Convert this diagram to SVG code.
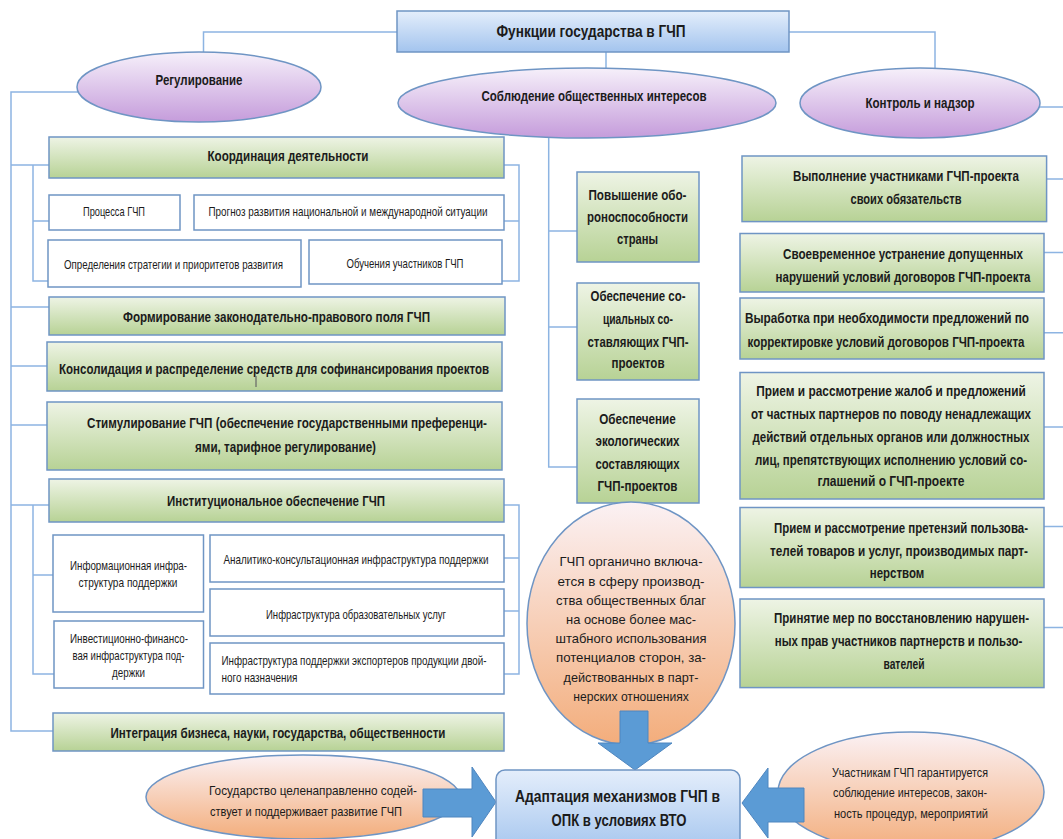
<svg xmlns="http://www.w3.org/2000/svg" width="1063" height="839" viewBox="0 0 1063 839">
<defs>
<linearGradient id="gG" x1="0" y1="0" x2="0" y2="1"><stop offset="0" stop-color="#eef4e5"/><stop offset="1" stop-color="#b7d295"/></linearGradient>
<linearGradient id="gP" x1="0" y1="0" x2="0" y2="1"><stop offset="0" stop-color="#f6f0fa"/><stop offset="1" stop-color="#c59cdb"/></linearGradient>
<linearGradient id="gB" x1="0" y1="0" x2="0" y2="1"><stop offset="0" stop-color="#e4eefb"/><stop offset="1" stop-color="#a3c4ee"/></linearGradient>
<linearGradient id="gO" x1="0" y1="0" x2="0" y2="1"><stop offset="0" stop-color="#fbf1f4"/><stop offset="1" stop-color="#f3ad7b"/></linearGradient>
</defs>
<style>
.ln{fill:none;stroke:#8db4e2;stroke-width:1.5}
.gb{fill:url(#gG);stroke:#6f95c4;stroke-width:1.5}
.wb{fill:#fff;stroke:#6f95c4;stroke-width:1.5}
.pe{fill:url(#gP);stroke:#6f95c4;stroke-width:1.5}
.oe{fill:url(#gO);stroke:#6f95c4;stroke-width:1.5}
.bb{fill:url(#gB);stroke:#6f95c4;stroke-width:1.5}
.ar{fill:#5b9bd5;stroke:#4f86bf;stroke-width:1}
text{font-family:"Liberation Sans Narrow","Liberation Sans",Arial,sans-serif;fill:#1b1b1b;text-anchor:middle}
.b15{font-size:15px;font-weight:bold}
.b16{font-size:16px;font-weight:bold}
.m15{font-size:15px;font-weight:bold}
.r13{font-size:13px}
.l{text-anchor:start}
</style>
<rect width="1063" height="839" fill="#fff"/>

<g id="connectors">
<path class="ln" d="M397,32H203.5V52"/>
<path class="ln" d="M606,52V68"/>
<path class="ln" d="M789,32H935V68"/>
<path class="ln" d="M78,92H11V731H53"/>
<path class="ln" d="M11,165H49M11,307H49M11,366H47M11,425H47M11,505H49"/>
<path class="ln" d="M33,165V281H48M33,221H49"/>
<path class="ln" d="M504,165H519V281H502M504,221H519"/>
<path class="ln" d="M33,505V674H54M33,575H53"/>
<path class="ln" d="M504,505H519V674H504M504,558H519M504,611H519"/>
<path class="ln" d="M548.7,137V467H577M548.7,231H577M548.7,327H577"/>
<path class="ln" d="M1039,107H1063M1046.6,179H1063M1044,252.5H1063M1044,332.7H1063M1044,427H1063M1044,526.5H1063M1044,627.5H1063"/>
</g>

<g id="title"><rect class="bb" x="397" y="11" width="392" height="41"/><text class="b16" x="591" y="37" textLength="189" lengthAdjust="spacingAndGlyphs">Функции государства в ГЧП</text></g>

<g id="regulirovanie"><ellipse class="pe" cx="199" cy="87" rx="122" ry="35"/><text class="b15" x="199" y="85" textLength="87" lengthAdjust="spacingAndGlyphs">Регулирование</text></g>
<g id="soblyudenie"><ellipse class="pe" cx="587" cy="103" rx="189" ry="35"/><text class="b15" x="594" y="101" textLength="225" lengthAdjust="spacingAndGlyphs">Соблюдение общественных интересов</text></g>
<g id="kontrol"><ellipse class="pe" cx="920" cy="103" rx="120" ry="35"/><text class="b15" x="920" y="108" textLength="109" lengthAdjust="spacingAndGlyphs">Контроль и надзор</text></g>

<g id="koordinaciya"><rect class="gb" x="49" y="137" width="455" height="41"/><text class="b15" x="288" y="160.5" textLength="161" lengthAdjust="spacingAndGlyphs">Координация деятельности</text></g>
<g id="processa"><rect class="wb" x="49" y="195" width="131" height="35"/><text class="r13" x="114" y="215.5" textLength="62" lengthAdjust="spacingAndGlyphs">Процесса ГЧП</text></g>
<g id="prognoz"><rect class="wb" x="194" y="195" width="310" height="35"/><text class="r13" x="348" y="215.5" textLength="279" lengthAdjust="spacingAndGlyphs">Прогноз развития национальной и международной ситуации</text></g>
<g id="opredeleniya"><rect class="wb" x="48" y="240" width="253" height="47"/><text class="r13" x="173.5" y="268.5" textLength="219" lengthAdjust="spacingAndGlyphs">Определения стратегии и приоритетов развития</text></g>
<g id="obucheniya"><rect class="wb" x="309" y="240" width="193" height="44"/><text class="r13" x="405" y="267.5" textLength="117" lengthAdjust="spacingAndGlyphs">Обучения участников ГЧП</text></g>

<g id="formirovanie"><rect class="gb" x="49" y="297" width="456" height="38"/><text class="b15" x="276.5" y="321.5" textLength="307" lengthAdjust="spacingAndGlyphs">Формирование законодательно-правового поля ГЧП</text></g>
<g id="konsolidaciya"><rect class="gb" x="47" y="342" width="455" height="49"/><text class="b15" x="274" y="373.5" textLength="430" lengthAdjust="spacingAndGlyphs">Консолидация и распределение средств для софинансирования проектов</text><line x1="256" y1="376" x2="256" y2="387" stroke="#666" stroke-width="1.2"/></g>
<g id="stimulirovanie"><rect class="gb" x="47" y="402" width="455" height="68"/><text class="b15" x="287" y="427.5" textLength="400" lengthAdjust="spacingAndGlyphs">Стимулирование ГЧП (обеспечение государственными преференци-</text><text class="b15" x="285.5" y="451.5" textLength="181" lengthAdjust="spacingAndGlyphs">ями, тарифное регулирование)</text></g>
<g id="institucionalnoe"><rect class="gb" x="49" y="479" width="455" height="43"/><text class="b15" x="276" y="505.5" textLength="218" lengthAdjust="spacingAndGlyphs">Институциональное обеспечение ГЧП</text></g>

<g id="informacionnaya"><rect class="wb" x="53" y="535" width="150.5" height="77"/><text class="r13" x="128.5" y="569.5" textLength="117" lengthAdjust="spacingAndGlyphs">Информационная инфра-</text><text class="r13" x="128" y="587" textLength="99" lengthAdjust="spacingAndGlyphs">структура поддержки</text></g>
<g id="investicionno"><rect class="wb" x="54" y="621" width="149.5" height="67"/><text class="r13" x="129" y="642.5" textLength="118" lengthAdjust="spacingAndGlyphs">Инвестиционно-финансо-</text><text class="r13" x="128.5" y="659.5" textLength="112" lengthAdjust="spacingAndGlyphs">вая инфраструктура под-</text><text class="r13" x="128.5" y="676.5" textLength="33" lengthAdjust="spacingAndGlyphs">держки</text></g>
<g id="analitiko"><rect class="wb" x="210" y="535" width="294" height="47"/><text class="r13" x="356" y="564" textLength="265" lengthAdjust="spacingAndGlyphs">Аналитико-консультационная инфраструктура поддержки</text></g>
<g id="obrazovatelnyh"><rect class="wb" x="210" y="589" width="294" height="47"/><text class="r13" x="356" y="618.5" textLength="180" lengthAdjust="spacingAndGlyphs">Инфраструктура образовательных услуг</text></g>
<g id="eksporterov"><rect class="wb" x="210" y="643" width="294" height="51"/><text class="r13 l" x="221.5" y="664.5" textLength="265" lengthAdjust="spacingAndGlyphs">Инфраструктура поддержки экспортеров продукции двой-</text><text class="r13 l" x="221.5" y="681.5" textLength="76" lengthAdjust="spacingAndGlyphs">ного назначения</text></g>
<g id="integraciya"><rect class="gb" x="53" y="713" width="451" height="38"/><text class="b15" x="278" y="737.5" textLength="335" lengthAdjust="spacingAndGlyphs">Интеграция бизнеса, науки, государства, общественности</text></g>

<g id="oboronosposobnost"><rect class="gb" x="577" y="172" width="122" height="90"/><text class="m15" x="637.5" y="199.5" textLength="98" lengthAdjust="spacingAndGlyphs">Повышение обо-</text><text class="m15" x="637.5" y="222" textLength="101" lengthAdjust="spacingAndGlyphs">роноспособности</text><text class="m15" x="637.5" y="243.5" textLength="41" lengthAdjust="spacingAndGlyphs">страны</text></g>
<g id="socialnyh"><rect class="gb" x="577" y="283" width="122" height="97"/><text class="m15" x="638" y="300.5" textLength="95" lengthAdjust="spacingAndGlyphs">Обеспечение со-</text><text class="m15" x="638" y="323.5" textLength="70" lengthAdjust="spacingAndGlyphs">циальных со-</text><text class="m15" x="638" y="347" textLength="101" lengthAdjust="spacingAndGlyphs">ставляющих ГЧП-</text><text class="m15" x="638" y="368" textLength="53" lengthAdjust="spacingAndGlyphs">проектов</text></g>
<g id="ekologicheskih"><rect class="gb" x="577" y="399" width="122" height="104"/><text class="m15" x="637.5" y="423.5" textLength="76.5" lengthAdjust="spacingAndGlyphs">Обеспечение</text><text class="m15" x="637.5" y="445.5" textLength="84" lengthAdjust="spacingAndGlyphs">экологических</text><text class="m15" x="637.5" y="469" textLength="84" lengthAdjust="spacingAndGlyphs">составляющих</text><text class="m15" x="637.5" y="491" textLength="80" lengthAdjust="spacingAndGlyphs">ГЧП-проектов</text></g>

<g id="vypolnenie"><rect class="gb" x="742" y="156" width="304.6" height="65.6"/><text class="m15" transform="translate(906,181) scale(0.78,1)" textLength="289.7" lengthAdjust="spacingAndGlyphs">Выполнение участниками ГЧП-проекта</text><text class="m15" transform="translate(906,204) scale(0.78,1)" textLength="142.3" lengthAdjust="spacingAndGlyphs">своих обязательств</text></g>
<g id="svoevremennoe"><rect class="gb" x="740" y="233.5" width="304" height="58.5"/><text class="m15" transform="translate(903,258.5) scale(0.78,1)" textLength="307.7" lengthAdjust="spacingAndGlyphs">Своевременное устранение допущенных</text><text class="m15" transform="translate(903,281.5) scale(0.78,1)" textLength="326.9" lengthAdjust="spacingAndGlyphs">нарушений условий договоров ГЧП-проекта</text></g>
<g id="vyrabotka"><rect class="gb" x="740" y="298" width="304" height="61"/><text class="m15" transform="translate(887,322.5) scale(0.78,1)" textLength="364.1" lengthAdjust="spacingAndGlyphs">Выработка при необходимости предложений по</text><text class="m15" transform="translate(886,346.5) scale(0.78,1)" textLength="355.1" lengthAdjust="spacingAndGlyphs">корректировке условий договоров ГЧП-проекта</text></g>
<g id="zhalob"><rect class="gb" x="740" y="372.5" width="304" height="126.5"/><text class="m15" transform="translate(891,396) scale(0.78,1)" textLength="345.5" lengthAdjust="spacingAndGlyphs">Прием и рассмотрение жалоб и предложений</text><text class="m15" transform="translate(891,419) scale(0.78,1)" textLength="359" lengthAdjust="spacingAndGlyphs">от частных партнеров по поводу ненадлежащих</text><text class="m15" transform="translate(891,441.5) scale(0.78,1)" textLength="355.1" lengthAdjust="spacingAndGlyphs">действий отдельных органов или должностных</text><text class="m15" transform="translate(891,464.5) scale(0.78,1)" textLength="348.7" lengthAdjust="spacingAndGlyphs">лиц, препятствующих исполнению условий со-</text><text class="m15" transform="translate(891,486) scale(0.78,1)" textLength="188.5" lengthAdjust="spacingAndGlyphs">глашений о ГЧП-проекте</text></g>
<g id="pretenziy"><rect class="gb" x="740" y="507.5" width="304" height="80"/><text class="m15" transform="translate(901,532.5) scale(0.78,1)" textLength="325.6" lengthAdjust="spacingAndGlyphs">Прием и рассмотрение претензий пользова-</text><text class="m15" transform="translate(899,555.5) scale(0.78,1)" textLength="330.8" lengthAdjust="spacingAndGlyphs">телей товаров и услуг, производимых парт-</text><text class="m15" transform="translate(897,577.5) scale(0.78,1)" textLength="69.9" lengthAdjust="spacingAndGlyphs">нерством</text></g>
<g id="prinyatie"><rect class="gb" x="740" y="599" width="304" height="88.6"/><text class="m15" transform="translate(901.5,622.5) scale(0.78,1)" textLength="326.9" lengthAdjust="spacingAndGlyphs">Принятие мер по восстановлению нарушен-</text><text class="m15" transform="translate(898.5,645.5) scale(0.78,1)" textLength="317.3" lengthAdjust="spacingAndGlyphs">ных прав участников партнерств и пользо-</text><text class="m15" transform="translate(904,668.5) scale(0.78,1)" textLength="52.6" lengthAdjust="spacingAndGlyphs">вателей</text></g>

<g id="gchp-organichno"><ellipse class="oe" cx="631" cy="623.5" rx="104" ry="121.5"/>
<text class="r13" x="631" y="566" textLength="143" lengthAdjust="spacingAndGlyphs">ГЧП органично включа-</text>
<text class="r13" x="631" y="585.5" textLength="147" lengthAdjust="spacingAndGlyphs">ется в сферу производ-</text>
<text class="r13" x="631" y="604.5" textLength="150" lengthAdjust="spacingAndGlyphs">ства общественных благ</text>
<text class="r13" x="631" y="623.5" textLength="130" lengthAdjust="spacingAndGlyphs">на основе более мас-</text>
<text class="r13" x="631" y="642.5" textLength="151" lengthAdjust="spacingAndGlyphs">штабного использования</text>
<text class="r13" x="631" y="662" textLength="150" lengthAdjust="spacingAndGlyphs">потенциалов сторон, за-</text>
<text class="r13" x="631" y="681.5" textLength="135" lengthAdjust="spacingAndGlyphs">действованных в парт-</text>
<text class="r13" x="631" y="701" textLength="115.5" lengthAdjust="spacingAndGlyphs">нерских отношениях</text>
</g>
<g id="arrow-down"><polygon class="ar" points="620,711 648,711 648,743 672,743 635,770 598,743 620,743"/></g>

<g id="gosudarstvo"><ellipse class="oe" cx="303" cy="797" rx="157" ry="42"/><text class="r13" x="313" y="795" textLength="208" lengthAdjust="spacingAndGlyphs">Государство целенаправленно содей-</text><text class="r13" x="306" y="815.5" textLength="192" lengthAdjust="spacingAndGlyphs">ствует и поддерживает развитие ГЧП</text></g>
<g id="arrow-left-in"><polygon class="ar" points="423,789 472,789 472,767 496,802 472,837 472,817 423,817"/></g>

<g id="uchastnikam"><ellipse class="oe" cx="911" cy="792" rx="133" ry="60"/><text class="r13" x="910" y="777" textLength="156" lengthAdjust="spacingAndGlyphs">Участникам ГЧП гарантируется</text><text class="r13" x="910" y="797" textLength="154" lengthAdjust="spacingAndGlyphs">соблюдение интересов, закон-</text><text class="r13" x="911" y="818" textLength="154" lengthAdjust="spacingAndGlyphs">ность процедур, мероприятий</text></g>
<g id="arrow-right-in"><polygon class="ar" points="804,788 768,788 768,768 742,803 768,838 768,822 804,822"/></g>

<g id="adaptaciya"><rect class="bb" x="496" y="770" width="244" height="85" rx="9"/><text class="b16" x="617.5" y="802" textLength="205" lengthAdjust="spacingAndGlyphs">Адаптация механизмов ГЧП в</text><text class="b16" x="619" y="826" textLength="135" lengthAdjust="spacingAndGlyphs">ОПК в условиях ВТО</text></g>
</svg>
